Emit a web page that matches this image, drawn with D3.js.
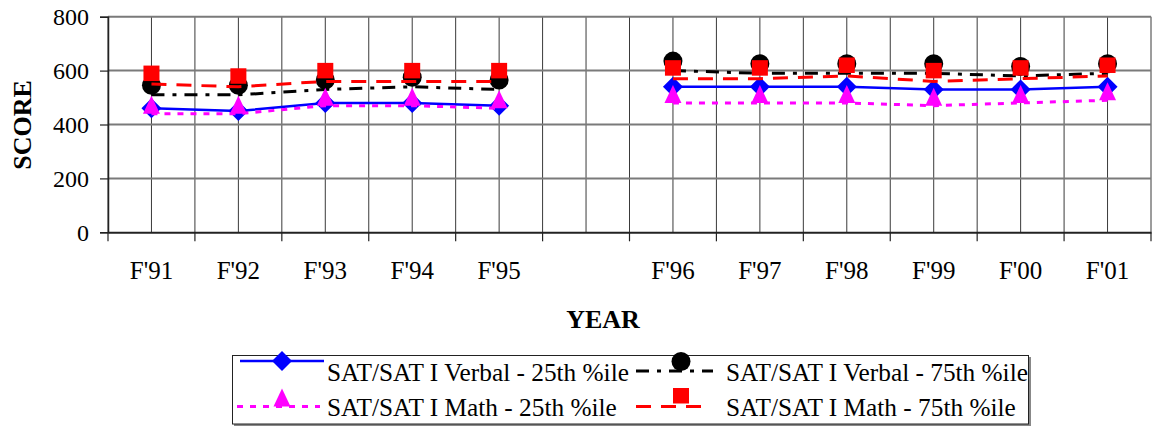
<!DOCTYPE html>
<html>
<head>
<meta charset="utf-8">
<script src="https://cdn.jsdelivr.net/npm/d3@7"></script>
<style>
  html, body { margin: 0; padding: 0; background: #fff; }
  svg { display: block; font-family: "Liberation Serif", "Times New Roman", serif; }
</style>
</head>
<body>
<svg id="chart" width="1156" height="426"></svg>
<script>
// ---- data ----
const years = ["F'91", "F'92", "F'93", "F'94", "F'95", "", "F'96", "F'97", "F'98", "F'99", "F'00", "F'01"];
const verbal25 = [460, 450, 480, 480, 470, null, 540, 540, 540, 530, 530, 540];
const verbal75 = [510, 510, 530, 540, 530, null, 600, 590, 590, 590, 580, 590];
const math25   = [440, 440, 470, 470, 460, null, 480, 480, 480, 470, 480, 490];
const math75   = [550, 540, 560, 560, 560, null, 570, 570, 580, 560, 570, 580];
const yTicks = [0, 200, 400, 600, 800];
const seriesNames = ["SAT/SAT I Verbal - 25th %ile", "SAT/SAT I Verbal - 75th %ile",
                     "SAT/SAT I Math - 25th %ile", "SAT/SAT I Math - 75th %ile"];

// ---- styles ----
const styles = [
  {color: "#0000FF", width: 2.5, dash: null, marker: "diamond"},
  {color: "#000000", width: 3, dash: "13,8,4,8", marker: "circle"},
  {color: "#FF00FF", width: 3, dash: "6,7", marker: "triangle"},
  {color: "#FF0000", width: 3, dash: "15,10", marker: "square"}
];
const seriesData = [verbal25, verbal75, math25, math75];

const svg = d3.select("#chart");
const pLeft = 108, pRight = 1151, pTop = 16.7, pBottom = 232.3;

const x = d3.scaleBand().domain(years).range([pLeft, pRight]).paddingInner(0).paddingOuter(0);
const y = d3.scaleLinear().domain([0, 800]).range([pBottom, pTop]);
const bw = x.bandwidth();
const cx = c => x(c) + bw / 2;

// vertical gridlines (boundaries and centres)
const g = svg.append("g");
const vlines = [];
years.forEach(c => { vlines.push(x(c)); vlines.push(cx(c)); });
vlines.push(pRight);
g.selectAll("line.v").data(vlines).enter().append("line")
  .attr("x1", d => d).attr("x2", d => d).attr("y1", pTop).attr("y2", pBottom)
  .attr("stroke", "#3a3a3a").attr("stroke-width", 1);

// horizontal gridlines
g.selectAll("line.h").data(yTicks.filter(t => t > 0)).enter().append("line")
  .attr("x1", pLeft).attr("x2", pRight).attr("y1", d => y(d)).attr("y2", d => y(d))
  .attr("stroke", "#7a7a7a").attr("stroke-width", 2);

// y axis
const yAxis = d3.axisLeft(y).tickValues(yTicks).tickSize(8).tickPadding(11).tickFormat(d3.format("d"));
const ya = svg.append("g").attr("transform", `translate(${pLeft},0)`).call(yAxis);
ya.select(".domain").attr("stroke", "#222").attr("stroke-width", 1.5);
ya.selectAll(".tick line").attr("stroke", "#222").attr("stroke-width", 1.2);
ya.selectAll(".tick text").attr("font-size", 24).attr("fill", "#000")
  .attr("font-family", "Liberation Serif, Times New Roman, serif").attr("dy", "0.33em");

// x axis
const xAxis = d3.axisBottom(x).tickSize(0).tickPadding(42);
const xa = svg.append("g").attr("transform", `translate(0,${pBottom})`).call(xAxis);
xa.select(".domain").attr("stroke", "#222").attr("stroke-width", 2);
xa.selectAll(".tick text").attr("font-size", 25).attr("fill", "#000")
  .attr("font-family", "Liberation Serif, Times New Roman, serif").attr("dy", "0.2em");
// boundary tick marks
const bounds = years.map(c => x(c)).concat([pRight]);
svg.append("g").selectAll("line").data(bounds).enter().append("line")
  .attr("x1", d => d).attr("x2", d => d).attr("y1", pBottom).attr("y2", pBottom + 9)
  .attr("stroke", "#222").attr("stroke-width", 1.2);

// axis titles
svg.append("text").attr("x", 603).attr("y", 328).attr("text-anchor", "middle")
  .attr("font-size", 26).attr("font-weight", "bold").text("YEAR");
svg.append("text").attr("transform", "translate(31,125) rotate(-90)").attr("text-anchor", "middle")
  .attr("font-size", 26).attr("font-weight", "bold").text("SCORE");

// marker drawing
function drawMarker(sel, type, color) {
  if (type === "diamond") {
    sel.append("path").attr("d", "M0,-10L10,0L0,10L-10,0Z").attr("fill", color);
  } else if (type === "circle") {
    sel.append("circle").attr("cx", 0).attr("cy", -9.5).attr("r", 9.5).attr("fill", color);
  } else if (type === "triangle") {
    sel.append("path").attr("d", "M0,-18L8.5,0L-8.5,0Z").attr("fill", color);
  } else if (type === "square") {
    sel.append("rect").attr("x", -8).attr("y", -18.5).attr("width", 16).attr("height", 15.5).attr("fill", color);
  }
}

// series
seriesData.forEach((vals, i) => {
  const st = styles[i];
  const pts = years.map((c, j) => ({c, v: vals[j]}));
  const line = d3.line().defined(d => d.v != null).x(d => cx(d.c)).y(d => y(d.v));
  const sg = svg.append("g");
  sg.append("path").attr("d", line(pts)).attr("fill", "none")
    .attr("stroke", st.color).attr("stroke-width", st.width)
    .attr("stroke-dasharray", st.dash);
  pts.filter(d => d.v != null).forEach(d => {
    const m = sg.append("g").attr("transform", `translate(${cx(d.c)},${y(d.v)})`);
    drawMarker(m, st.marker, st.color);
  });
});

// legend
const lg = svg.append("g");
lg.append("rect").attr("x", 234).attr("y", 357).attr("width", 797).attr("height", 69).attr("fill", "#888");
lg.append("rect").attr("x", 232.5).attr("y", 355.5).attr("width", 796).attr("height", 68.5)
  .attr("fill", "#fff").attr("stroke", "#222").attr("stroke-width", 1);
const legItems = [
  {lx1: 240, lx2: 324, ly: 361, mx: 282, tx: 327, ty: 381},
  {lx1: 636, lx2: 713, ly: 371, mx: 681, tx: 726, ty: 381},
  {lx1: 237, lx2: 320, ly: 406.5, mx: 282, tx: 327, ty: 416},
  {lx1: 636, lx2: 711, ly: 406.5, mx: 681, tx: 726, ty: 416}
];
legItems.forEach((it, i) => {
  const st = styles[i];
  lg.append("line").attr("x1", it.lx1).attr("x2", it.lx2).attr("y1", it.ly).attr("y2", it.ly)
    .attr("stroke", st.color).attr("stroke-width", st.width).attr("stroke-dasharray", st.dash);
  const m = lg.append("g").attr("transform", `translate(${it.mx},${it.ly})`);
  drawMarker(m, st.marker, st.color);
  lg.append("text").attr("x", it.tx).attr("y", it.ty).attr("font-size", 25.3).text(seriesNames[i]);
});
</script>
</body>
</html>
